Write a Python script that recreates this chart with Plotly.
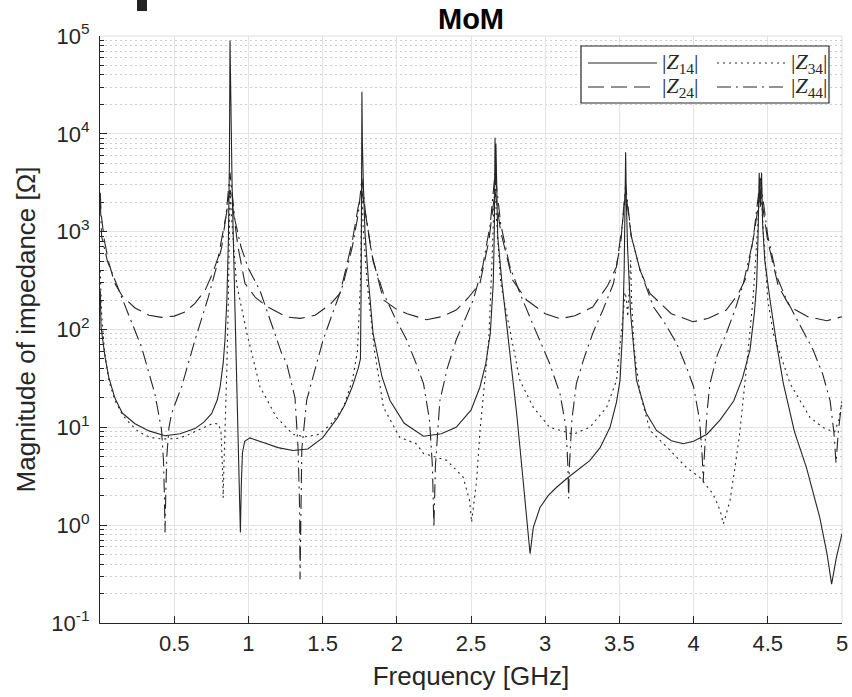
import plotly.graph_objects as go

# ---------------- data ----------------
freq_z14 = [0.002, 0.007, 0.034, 0.06, 0.1, 0.15, 0.236, 0.33, 0.438, 0.54, 0.64, 0.70, 0.752, 0.79, 0.809,
            0.83, 0.842, 0.855, 0.865, 0.872, 0.876, 0.882, 0.89, 0.91, 0.93, 0.94, 0.946, 0.952, 0.96, 0.975,
            1.01, 1.1, 1.2, 1.3, 1.4, 1.5, 1.6, 1.65, 1.7, 1.74, 1.755, 1.76, 1.763, 1.765, 1.768, 1.775,
            1.786, 1.81, 1.84, 1.9, 1.954, 2.05, 2.18, 2.30, 2.40, 2.50, 2.56, 2.60, 2.63, 2.65, 2.657,
            2.662, 2.665, 2.668, 2.68, 2.707, 2.75, 2.808, 2.85, 2.898, 2.92, 2.965, 3.02, 3.077, 3.156,
            3.23, 3.30, 3.37, 3.437, 3.48, 3.504, 3.522, 3.532, 3.538, 3.542, 3.547, 3.555, 3.575, 3.616,
            3.68, 3.75, 3.85, 3.93, 4.0, 4.09, 4.18, 4.27, 4.33, 4.38, 4.41, 4.425, 4.435, 4.442, 4.45,
            4.458, 4.465, 4.48, 4.515, 4.56, 4.605, 4.68, 4.76, 4.85, 4.90, 4.93, 4.96, 5.0]
mag_z14 = [250, 106, 52, 32, 20, 14, 10.9, 9.2, 8.2, 8.6, 9.7, 11.3, 13.8, 19, 25.7,
           45, 78, 200, 800, 5000, 90000, 20000, 3000, 150, 7, 2, 0.84, 2.5, 5.5, 7.2,
           7.8, 7.0, 6.2, 5.8, 6.0, 7.8, 12.5, 17, 26, 40, 50, 300, 5000, 27000, 8000, 3000,
           950, 300, 91, 33, 18.8, 11, 8.1, 8.6, 10, 15, 25.7, 45, 91, 300, 1000,
           9100, 3000, 7900, 900, 316, 80, 13.7, 3, 0.51, 0.95, 1.52, 2.0, 2.44, 3.09,
           3.8, 4.57, 6.2, 10, 18, 30, 98, 400, 2000, 6500, 2000, 700, 150, 30,
           14, 9.3, 7.3, 6.8, 7.2, 8.5, 12, 18.6, 32, 62, 150, 295, 1000, 4000, 1800,
           4000, 1200, 500, 200, 70, 28, 9, 3.9, 1.2, 0.5, 0.25, 0.45, 0.82]

freq_z24 = [0.002, 0.007, 0.03, 0.06, 0.1, 0.15, 0.236, 0.33, 0.415, 0.5, 0.573, 0.64, 0.708, 0.76, 0.797,
            0.83, 0.853, 0.868, 0.876, 0.885, 0.9, 0.93, 0.977, 1.05, 1.13, 1.258, 1.35, 1.45, 1.55, 1.617,
            1.66, 1.70, 1.74, 1.765, 1.79, 1.83, 1.91, 2.0, 2.07, 2.20, 2.30, 2.40, 2.48, 2.56, 2.62,
            2.662, 2.70, 2.78, 2.875, 3.0, 3.10, 3.2, 3.32, 3.42, 3.48, 3.52, 3.542, 3.58, 3.64, 3.706,
            3.85, 3.996, 4.1, 4.22, 4.30, 4.357, 4.41, 4.45, 4.50, 4.57, 4.65, 4.77, 4.897, 5.0]
mag_z24 = [2500, 1550, 800, 480, 295, 220, 166, 140, 133, 137, 151, 185, 251, 380, 550,
           1000, 1550, 2300, 2600, 2300, 1500, 700, 295, 210, 170, 134, 130, 140, 180, 234,
           435, 800, 1800, 2600, 1500, 600, 200, 160, 145, 126, 135, 158, 210, 295, 800,
           2600, 1000, 320, 200, 145, 129, 138, 170, 280, 435, 1200, 2600, 900, 400, 234,
           145, 120, 130, 158, 230, 346, 1000, 2600, 800, 280, 170, 135, 123, 135]

freq_z34 = [0.002, 0.01, 0.03, 0.06, 0.1, 0.15, 0.2, 0.26, 0.337, 0.42, 0.517, 0.58, 0.63, 0.70, 0.763,
            0.80, 0.815, 0.825, 0.83, 0.835, 0.845, 0.855, 0.865, 0.872, 0.876, 0.885, 0.90, 0.92, 0.99,
            1.078, 1.19, 1.30, 1.38, 1.48, 1.56, 1.64, 1.70, 1.735, 1.755, 1.765, 1.775, 1.80, 1.85,
            1.91, 2.02, 2.13, 2.18, 2.336, 2.447, 2.49, 2.504, 2.52, 2.538, 2.56, 2.594, 2.62, 2.64,
            2.655, 2.662, 2.67, 2.70, 2.74, 2.83, 2.92, 3.03, 3.19, 3.30, 3.414, 3.48, 3.526, 3.538,
            3.548, 3.556, 3.566, 3.576, 3.582, 3.60, 3.64, 3.706, 3.82, 3.95, 4.04, 4.13, 4.18, 4.20,
            4.22, 4.245, 4.28, 4.31, 4.357, 4.40, 4.43, 4.45, 4.47, 4.50, 4.537, 4.65, 4.785, 4.87,
            4.92, 4.95, 4.98, 5.0]
mag_z34 = [400, 150, 60, 30, 19, 13.5, 11, 9, 7.9, 7.6, 7.7, 8.2, 8.9, 10, 11,
           10.8, 9, 4, 1.9, 4, 12, 40, 200, 1500, 3000, 1500, 700, 295, 91,
           26, 12.6, 8.5, 8, 8.5, 11, 16, 30, 60, 300, 2500, 1000, 300, 60,
           16, 7.9, 6.8, 5.4, 4.6, 3.1, 1.8, 1.07, 1.8, 2.85, 9, 30, 80, 435,
           2000, 4000, 1500, 300, 145, 30, 16, 10, 8.5, 10, 16, 30, 145, 240,
           200, 135, 250, 510, 200, 60, 22, 9.3, 6.3, 3.9, 3.1, 2.1, 1.4, 1.03,
           1.3, 1.78, 4, 8.5, 42, 200, 1000, 3500, 1000, 200, 91, 28, 12.6, 10,
           9.3, 9, 12, 18.6]

freq_z44 = [0.002, 0.011, 0.05, 0.1, 0.19, 0.28, 0.37, 0.415, 0.428, 0.434, 0.438, 0.443, 0.45, 0.465,
            0.483, 0.55, 0.64, 0.73, 0.82, 0.85, 0.87, 0.876, 0.885, 0.91, 0.95, 1.0, 1.078, 1.13,
            1.224, 1.258, 1.314, 1.335, 1.345, 1.348, 1.352, 1.36, 1.393, 1.45, 1.503, 1.57, 1.64,
            1.70, 1.74, 1.765, 1.79, 1.84, 1.91, 1.99, 2.067, 2.13, 2.18, 2.22, 2.24, 2.25, 2.26,
            2.29, 2.34, 2.40, 2.46, 2.515, 2.58, 2.63, 2.662, 2.70, 2.76, 2.83, 2.90, 2.965, 3.03,
            3.10, 3.14, 3.153, 3.158, 3.163, 3.18, 3.21, 3.26, 3.32, 3.39, 3.46, 3.51, 3.542, 3.58,
            3.64, 3.73, 3.80, 3.886, 3.95, 4.0, 4.04, 4.058, 4.065, 4.072, 4.09, 4.11, 4.16, 4.22,
            4.28, 4.335, 4.40, 4.45, 4.50, 4.56, 4.627, 4.72, 4.805, 4.87, 4.92, 4.945, 4.96, 4.975, 5.0]
mag_z44 = [2000, 890, 500, 316, 145, 66, 22, 9.3, 4.5, 2, 0.84, 2, 5, 10,
           14, 26, 78, 214, 690, 1500, 3000, 4000, 3000, 1300, 700, 420, 250, 150,
           57, 45, 20, 6, 1.5, 0.28, 1.5, 6, 19, 40, 78, 150, 295,
           700, 1500, 3500, 1500, 500, 234, 130, 78, 45, 28, 12, 4, 0.95, 4,
           18.6, 40, 78, 130, 200, 450, 1200, 4000, 1200, 450, 234, 130, 78, 45,
           22, 10, 4, 1.87, 4, 12, 28, 50, 91, 160, 295, 800, 3000, 900,
           400, 170, 120, 72, 42, 26, 12, 5, 2.76, 5, 14, 28, 55, 91,
           160, 295, 800, 3500, 900, 350, 200, 110, 62, 35, 18.6, 9, 4.3, 9, 19]

legend_names = ["|<i>Z</i><sub>14</sub>|", "|<i>Z</i><sub>24</sub>|",
                "|<i>Z</i><sub>34</sub>|", "|<i>Z</i><sub>44</sub>|"]
x_tick_vals = [0.5, 1, 1.5, 2, 2.5, 3, 3.5, 4, 4.5, 5]
x_tick_text = ["0.5", "1", "1.5", "2", "2.5", "3", "3.5", "4", "4.5", "5"]
y_tick_vals = [0.1, 1, 10, 100, 1000, 10000, 100000]
y_tick_text = ["10<sup>-1</sup>", "10<sup>0</sup>", "10<sup>1</sup>", "10<sup>2</sup>",
               "10<sup>3</sup>", "10<sup>4</sup>", "10<sup>5</sup>"]

# ---------------- styling ----------------
W, H = 852, 697
ML, MR, MT, MB = 100, 10, 36, 74
LINE_C = "#262626"
DASHES = ["solid", "16px,7px", "2px,4px", "14px,5px,2px,5px"]

fig = go.Figure()
series = [(freq_z14, mag_z14), (freq_z24, mag_z24), (freq_z34, mag_z34), (freq_z44, mag_z44)]
for (fx, fy), nm, ds in zip(series, legend_names, DASHES):
    fig.add_trace(go.Scatter(x=fx, y=fy, mode="lines", name=nm, showlegend=False,
                             line=dict(color=LINE_C, width=1.1, dash=ds)))

minor_vals = [k * 10.0 ** n for n in range(-1, 5) for k in range(2, 10)]

fig.update_layout(
    width=W, height=H,
    margin=dict(l=ML, r=MR, t=MT, b=MB, autoexpand=False),
    paper_bgcolor="white", plot_bgcolor="white",
    font=dict(family="Liberation Sans, Arial, sans-serif", size=22, color="#262626"),
    title=dict(text="<b>MoM</b>", x=(ML + (W - ML - MR) / 2) / W, xanchor="center",
               y=1 - 19 / H, yanchor="middle", font=dict(size=29, color="#000000")),
)
fig.update_xaxes(range=[0, 5], tickmode="array", tickvals=x_tick_vals, ticktext=x_tick_text,
                 automargin=False,
                 showgrid=True, gridcolor="#e3e3e3", gridwidth=1,
                 showline=True, linecolor="#262626", linewidth=1.2,
                 ticks="inside", ticklen=7, tickcolor="#262626", zeroline=False,
                 title=dict(text="Frequency [GHz]", standoff=12))
fig.update_yaxes(type="log", range=[-1, 5], tickmode="array", tickvals=y_tick_vals, ticktext=y_tick_text,
                 automargin=False, ticklabelstandoff=5,
                 showgrid=True, gridcolor="#e3e3e3", gridwidth=1,
                 showline=True, linecolor="#262626", linewidth=1.2,
                 ticks="inside", ticklen=7, tickcolor="#262626", zeroline=False,
                 minor=dict(tickmode="array", tickvals=minor_vals, ticks="inside", ticklen=4,
                            tickcolor="#262626", showgrid=True, gridcolor="#cdcdcd",
                            griddash="1.5px,3.5px", gridwidth=1),
                 title=dict(text="Magnitude of impedance [Ω]", standoff=8))

# top and right frame edges (light, like the reference)
fig.add_shape(type="line", xref="paper", yref="paper", x0=0, x1=1, y0=1, y1=1,
              line=dict(color="#dcdcdc", width=1), layer="below")
fig.add_shape(type="line", xref="paper", yref="paper", x0=1, x1=1, y0=0, y1=1,
              line=dict(color="#dcdcdc", width=1), layer="below")

# ---------------- manual two-column legend ----------------
PW, PH = W - ML - MR, H - MT - MB
def px_x(p):
    return (p - ML) / PW
def px_y(p):
    return (H - MB - p) / PH

fig.add_shape(type="rect", xref="paper", yref="paper",
              x0=px_x(581), x1=px_x(829), y0=px_y(103), y1=px_y(46),
              line=dict(color="#262626", width=1.2), fillcolor="white", layer="above")
legend_rows = [63, 87]
legend_cols = [(588, 657, 660), (717, 785, 789)]
order = [(0, 0, 0), (2, 0, 1), (1, 1, 0), (3, 1, 1)]
for idx, r, c in order:
    x0, x1, xt = legend_cols[c]
    yy = legend_rows[r]
    fig.add_shape(type="line", xref="paper", yref="paper",
                  x0=px_x(x0), x1=px_x(x1), y0=px_y(yy), y1=px_y(yy),
                  line=dict(color=LINE_C, width=1.2, dash=DASHES[idx]), layer="above")
    fig.add_annotation(xref="paper", yref="paper", x=px_x(xt), y=px_y(yy),
                       xanchor="left", yanchor="middle", showarrow=False,
                       text=legend_names[idx],
                       font=dict(family="Liberation Serif, DejaVu Serif, serif", size=22, color="#262626"))

# small dark block at the top-left corner of the reference image
fig.add_shape(type="rect", xref="paper", yref="paper",
              x0=px_x(137), x1=px_x(147), y0=px_y(11), y1=px_y(0),
              line=dict(width=0), fillcolor="#222222", layer="above")

fig.write_html("out.html")
